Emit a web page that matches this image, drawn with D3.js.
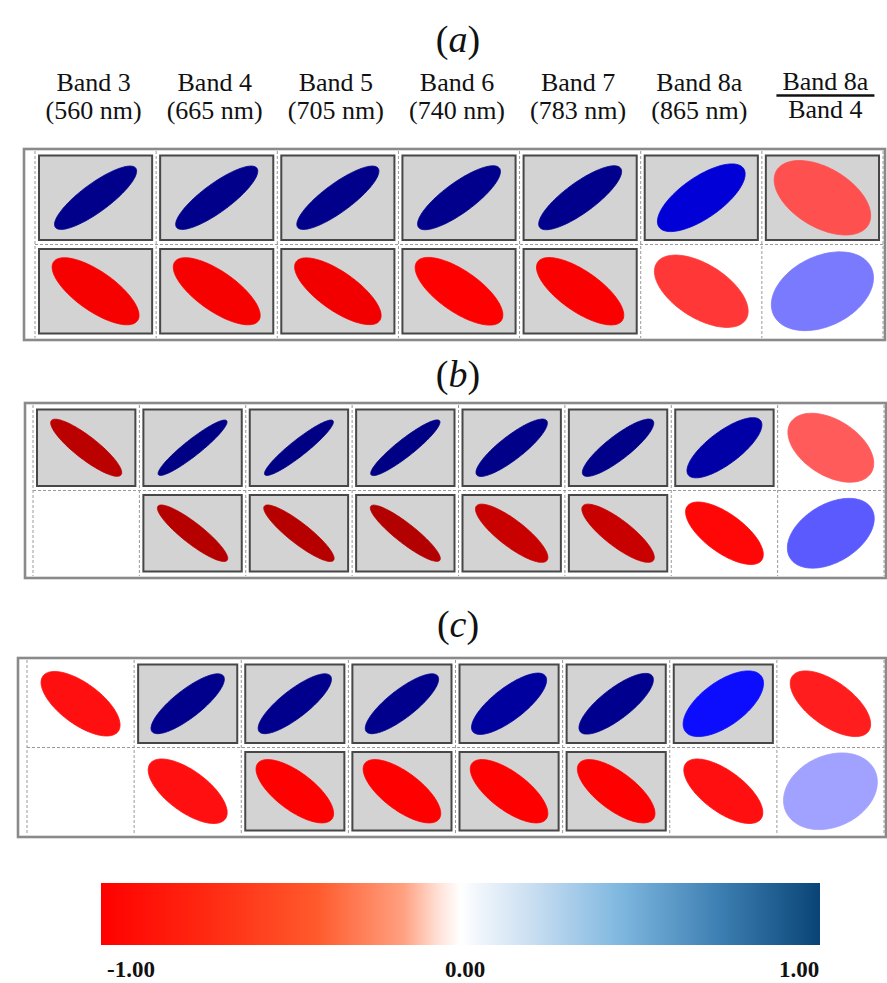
<!DOCTYPE html>
<html>
<head>
<meta charset="utf-8">
<script src="https://cdn.jsdelivr.net/npm/d3@7"></script>
<style>
  html, body { margin: 0; padding: 0; background: #ffffff; }
  svg { display: block; }
  text { font-family: "Liberation Serif", "Times New Roman", serif; fill: #111; }
</style>
</head>
<body>
<svg id="chart" width="887" height="983"></svg>
<script>
// ---------------- DATA ----------------
const bandNames = ["Band 3", "Band 4", "Band 5", "Band 6", "Band 7", "Band 8a"];
const wavelengths = ["(560 nm)", "(665 nm)", "(705 nm)", "(740 nm)", "(783 nm)", "(865 nm)"];
const ratioNumerator = "Band 8a";
const ratioDenominator = "Band 4";
const panelLabels = ["a", "b", "c"];

// correlation values (row 1, row 2) per panel; null = empty cell
const corrA = [
  [0.84, 0.84, 0.84, 0.82, 0.82, 0.70, -0.48],
  [-0.72, -0.72, -0.73, -0.70, -0.71, -0.55, 0.34]
];
const corrB = [
  [-0.87, 0.93, 0.93, 0.92, 0.86, 0.86, 0.76, -0.45],
  [null, -0.89, -0.89, -0.90, -0.83, -0.83, -0.68, 0.42]
];
const corrC = [
  [-0.66, 0.82, 0.82, 0.82, 0.77, 0.79, 0.62, -0.62],
  [null, -0.66, -0.70, -0.70, -0.70, -0.70, -0.66, 0.24]
];
// highlighted (gray box) cells
const boxA = [
  [1, 1, 1, 1, 1, 1, 1],
  [1, 1, 1, 1, 1, 0, 0]
];
const boxB = [
  [1, 1, 1, 1, 1, 1, 1, 0],
  [0, 1, 1, 1, 1, 1, 0, 0]
];
const boxC = [
  [0, 1, 1, 1, 1, 1, 1, 0],
  [0, 0, 1, 1, 1, 1, 0, 0]
];

// colour bar
const colorbarTicks = [-1, 0, 1];
const colorbarStops = [0, 0.15, 0.3, 0.42, 0.47, 0.5, 0.53, 0.6, 0.72, 0.86, 1];
const colorbarColors = ["#ff0000", "#ff2a12", "#ff5a2c", "#ffa080", "#ffe2d8", "#ffffff",
                        "#eef4fb", "#c9def1", "#80b8e0", "#3d7fb2", "#0a4476"];

// ellipse colour scale
const ellDomain = [-1, -0.85, -0.70, 0, 0.65, 0.79, 1];
const ellRange = ["#990000", "#c00000", "#ff0000", "#ffffff", "#0000ff", "#00008e", "#000080"];

// ---------------- LAYOUT ----------------
const svg = d3.select("#chart");
const color = d3.scaleLinear().domain(ellDomain).range(ellRange).interpolate(d3.interpolateRgb);

const panels = [
  { corr: corrA, box: boxA, label: panelLabels[0], outer: [24, 149, 885, 340], grid: [35, 151, 883, 338], labelY: 52 },
  { corr: corrB, box: boxB, label: panelLabels[1], outer: [25, 403, 886, 578], grid: [33, 405, 884, 576], labelY: 387 },
  { corr: corrC, box: boxC, label: panelLabels[2], outer: [18, 658, 886, 837], grid: [27, 660, 884, 835], labelY: 637 }
];

const labelX = 458;
const sizeFactor = r => 0.625 + 0.33 * (1 - Math.abs(r));

function ellipsePath(cx, cy, hw, hh, r) {
  const d = Math.acos(Math.max(-0.9999, Math.min(0.9999, r)));
  const s = sizeFactor(r);
  const ts = d3.range(0, 120).map(i => i / 120 * 2 * Math.PI);
  const line = d3.line()
    .x(t => cx + s * hw * Math.cos(t + d / 2))
    .y(t => cy - s * hh * Math.cos(t - d / 2))
    .curve(d3.curveLinearClosed);
  return line(ts);
}

panels.forEach((p, pi) => {
  const nCols = p.corr[0].length;
  const g = svg.append("g");
  const x = d3.scaleBand().domain(d3.range(nCols)).range([p.grid[0], p.grid[2]]).padding(0);
  const y = d3.scaleBand().domain([0, 1]).range([p.grid[1], p.grid[3]]).padding(0);

  // panel label
  svg.append("text")
    .attr("x", labelX).attr("y", p.labelY)
    .attr("text-anchor", "middle")
    .style("font-size", "38px")
    .html('(<tspan font-style="italic">' + p.label + '</tspan>)');

  // dashed grid
  const vx = d3.range(nCols + 1).map(i => p.grid[0] + i * x.bandwidth());
  g.selectAll("line.v").data(vx).join("line")
    .attr("x1", d => d).attr("x2", d => d)
    .attr("y1", p.grid[1]).attr("y2", p.grid[3])
    .attr("stroke", "#9a9a9a").attr("stroke-width", 1).attr("stroke-dasharray", "3,2");
  g.append("line")
    .attr("x1", p.grid[0]).attr("x2", p.grid[2])
    .attr("y1", y(1)).attr("y2", y(1))
    .attr("stroke", "#9a9a9a").attr("stroke-width", 1).attr("stroke-dasharray", "3,2");

  // cells
  const cells = [];
  p.corr.forEach((row, ri) => row.forEach((v, ci) => cells.push({ r: v, ri, ci, box: p.box[ri][ci] })));
  const insetX = 4, insetY = 4.5;
  g.selectAll("rect.box").data(cells.filter(c => c.box)).join("rect")
    .attr("x", c => x(c.ci) + insetX)
    .attr("y", c => y(c.ri) + insetY)
    .attr("width", x.bandwidth() - 2 * insetX)
    .attr("height", y.bandwidth() - 2 * insetY)
    .attr("fill", "#d3d3d3")
    .attr("stroke", "#474747")
    .attr("stroke-width", 2);

  g.selectAll("path.ell").data(cells.filter(c => c.r !== null)).join("path")
    .attr("d", c => ellipsePath(x(c.ci) + x.bandwidth() / 2, y(c.ri) + y.bandwidth() / 2,
                                 x.bandwidth() / 2, y.bandwidth() / 2, c.r))
    .attr("fill", c => color(c.r))
    .attr("stroke", c => color(c.r))
    .attr("stroke-width", 0.8);

  // outer frame
  g.append("rect")
    .attr("x", p.outer[0]).attr("y", p.outer[1])
    .attr("width", p.outer[2] - p.outer[0]).attr("height", p.outer[3] - p.outer[1])
    .attr("fill", "none").attr("stroke", "#8a8a8a").attr("stroke-width", 2.6);

  // column headers (panel a only)
  if (pi === 0) {
    const hdr = svg.append("g").style("font-size", "26px");
    const cxOf = i => x(i) + x.bandwidth() / 2 - 2;
    hdr.selectAll("text.b").data(bandNames).join("text")
      .attr("x", (d, i) => cxOf(i)).attr("y", 91)
      .attr("text-anchor", "middle").text(d => d);
    hdr.selectAll("text.w").data(wavelengths).join("text")
      .attr("x", (d, i) => cxOf(i)).attr("y", 119)
      .attr("text-anchor", "middle").text(d => d);
    const rc = x(6) + x.bandwidth() / 2 + 3;
    hdr.append("text").attr("x", rc).attr("y", 90)
      .attr("text-anchor", "middle").text(ratioNumerator);
    hdr.append("line").attr("x1", rc - 49).attr("x2", rc + 49).attr("y1", 95.5).attr("y2", 95.5)
      .attr("stroke", "#111").attr("stroke-width", 2.4);
    hdr.append("text").attr("x", rc).attr("y", 118)
      .attr("text-anchor", "middle").text(ratioDenominator);
  }
});

// ---------------- COLOUR BAR ----------------
const defs = svg.append("defs");
const grad = defs.append("linearGradient").attr("id", "cbgrad")
  .attr("x1", "0%").attr("x2", "100%").attr("y1", "0%").attr("y2", "0%");
grad.selectAll("stop").data(colorbarStops).join("stop")
  .attr("offset", d => (d * 100) + "%")
  .attr("stop-color", (d, i) => colorbarColors[i]);

const cb = { x0: 101, x1: 820, y0: 883, y1: 945 };
svg.append("rect")
  .attr("x", cb.x0).attr("y", cb.y0)
  .attr("width", cb.x1 - cb.x0).attr("height", cb.y1 - cb.y0)
  .attr("fill", "url(#cbgrad)");

const cbScale = d3.scaleLinear().domain([-1, 1]).range([cb.x0 + 30, cb.x1 - 21]);
svg.append("g").selectAll("text").data(colorbarTicks).join("text")
  .attr("x", d => cbScale(d))
  .attr("y", 977)
  .attr("text-anchor", "middle")
  .style("font-size", "23px")
  .style("font-weight", "bold")
  .text(d => d.toFixed(2));
</script>
</body>
</html>
